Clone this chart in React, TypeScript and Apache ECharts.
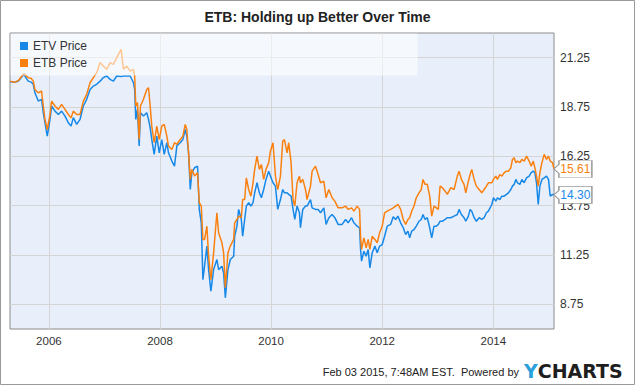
import React, { useEffect, useRef } from "react";
import * as echarts from "echarts";

// decimal years
const time = [
  2005.304, 2005.376, 2005.448, 2005.547, 2005.628, 2005.683, 2005.719, 2005.749, 2005.809, 2005.868,
  2005.899, 2005.930, 2005.971, 2006.020, 2006.049, 2006.110, 2006.170, 2006.229, 2006.290, 2006.350,
  2006.399, 2006.440, 2006.500, 2006.561, 2006.620, 2006.680, 2006.741, 2006.801, 2006.860, 2006.922,
  2006.981, 2007.041, 2007.102, 2007.161, 2007.221, 2007.300, 2007.342, 2007.401, 2007.463, 2007.522,
  2007.544, 2007.564, 2007.594, 2007.625, 2007.648, 2007.702, 2007.762, 2007.793, 2007.823, 2007.852,
  2007.895, 2007.942, 2007.986, 2008.032, 2008.076, 2008.123, 2008.153, 2008.213, 2008.261, 2008.303,
  2008.364, 2008.411, 2008.454, 2008.483, 2008.514, 2008.545, 2008.573, 2008.622, 2008.676, 2008.707,
  2008.743, 2008.772, 2008.802, 2008.844, 2008.875, 2008.916, 2008.965, 2009.024, 2009.055, 2009.115,
  2009.145, 2009.176, 2009.223, 2009.266, 2009.326, 2009.344, 2009.385, 2009.416, 2009.464, 2009.488,
  2009.524, 2009.554, 2009.596, 2009.637, 2009.674, 2009.704, 2009.746, 2009.789, 2009.825, 2009.866,
  2009.908, 2009.957, 2009.987, 2010.034, 2010.078, 2010.119, 2010.168, 2010.209, 2010.240, 2010.287,
  2010.317, 2010.359, 2010.395, 2010.426, 2010.467, 2010.510, 2010.528, 2010.570, 2010.619, 2010.647,
  2010.709, 2010.738, 2010.799, 2010.846, 2010.889, 2010.949, 2010.990, 2011.039, 2011.098, 2011.147,
  2011.206, 2011.279, 2011.340, 2011.387, 2011.448, 2011.490, 2011.549, 2011.592, 2011.610, 2011.628,
  2011.670, 2011.711, 2011.747, 2011.778, 2011.820, 2011.868, 2011.910, 2011.953, 2012.000, 2012.043,
  2012.090, 2012.151, 2012.198, 2012.242, 2012.283, 2012.332, 2012.378, 2012.422, 2012.463, 2012.494,
  2012.530, 2012.572, 2012.613, 2012.662, 2012.703, 2012.734, 2012.770, 2012.811, 2012.855, 2012.891,
  2012.932, 2012.974, 2013.010, 2013.041, 2013.082, 2013.131, 2013.172, 2013.234, 2013.293, 2013.352,
  2013.383, 2013.425, 2013.473, 2013.504, 2013.551, 2013.582, 2013.612, 2013.654, 2013.695, 2013.744,
  2013.792, 2013.834, 2013.876, 2013.911, 2013.973, 2014.002, 2014.045, 2014.074, 2014.117, 2014.153,
  2014.195, 2014.236, 2014.272, 2014.315, 2014.344, 2014.375, 2014.406, 2014.434, 2014.478, 2014.514,
  2014.555, 2014.597, 2014.645, 2014.682, 2014.718, 2014.748, 2014.777, 2014.808, 2014.838, 2014.875,
  2014.916, 2014.957, 2014.993, 2015.024, 2015.066, 2015.090,
];

const etv = [
  20.03, 20.0, 20.05, 20.4, 20.06, 20.01, 19.9, 19.47, 19.05, 19.14,
  18.46, 17.95, 17.27, 18.12, 18.8, 18.54, 18.37, 18.54, 18.29, 17.95,
  17.78, 18.21, 17.87, 18.12, 18.8, 19.14, 19.64, 19.81, 19.9, 20.06,
  20.24, 20.32, 20.15, 20.06, 20.32, 20.29, 20.32, 20.32, 20.32, 19.98,
  19.64, 18.12, 18.63, 16.77, 18.46, 18.29, 18.46, 18.12, 17.7, 17.1,
  16.35, 17.27, 16.43, 17.1, 16.35, 16.94, 16.43, 16.01, 15.75, 16.77,
  16.94, 17.1, 17.61, 17.27, 16.43, 14.57, 15.42, 15.67, 15.75, 13.56,
  12.88, 10.0, 10.68, 11.7, 10.51, 9.42, 10.51, 11.02, 10.51, 10.68,
  10.35, 9.08, 10.51, 11.02, 11.19, 12.2, 12.71, 13.56, 13.05, 12.2,
  13.05, 13.73, 13.9, 13.73, 13.9, 14.4, 14.91, 14.4, 14.15, 14.57,
  15.08, 15.5, 15.25, 14.91, 14.74, 13.56, 14.06, 14.57, 14.4, 14.4,
  14.32, 14.23, 13.56, 13.05, 13.73, 13.39, 12.63, 13.56, 13.73, 13.73,
  14.06, 13.64, 13.56, 13.56, 13.39, 13.64, 12.8, 13.14, 13.3, 13.14,
  12.8, 12.8, 13.05, 12.88, 13.14, 12.88, 12.71, 12.63, 11.53, 10.94,
  11.44, 11.19, 11.53, 10.6, 11.36, 11.7, 11.36, 11.7, 11.78, 12.2,
  12.71, 12.8, 13.19, 13.05, 13.22, 12.88, 12.63, 12.29, 12.46, 12.12,
  12.46, 12.54, 12.71, 12.96, 13.05, 13.3, 13.05, 13.14, 12.63, 12.12,
  12.71, 12.71, 12.8, 12.96, 12.96, 13.05, 13.14, 13.14, 13.22, 13.3,
  13.56, 13.3, 13.14, 12.96, 13.22, 13.56, 13.47, 13.14, 12.96, 13.14,
  13.05, 13.14, 13.39, 13.47, 13.81, 14.15, 13.98, 14.15, 14.06, 14.23,
  14.23, 14.32, 14.4, 14.57, 14.74, 14.83, 15.08, 14.91, 14.83, 15.08,
  14.91, 15.16, 15.25, 15.42, 15.5, 15.42, 14.91, 13.81, 14.74, 15.08,
  15.16, 15.25, 15.08, 14.23, 14.32, 14.3,
];

const etb = [
  20.05, 20.0, 20.08, 20.44, 20.24, 20.19, 20.06, 19.64, 19.47, 19.56,
  18.8, 18.12, 17.61, 18.37, 19.05, 18.8, 18.63, 18.88, 18.63, 18.37,
  18.21, 18.54, 18.37, 18.37, 19.05, 19.39, 19.98, 20.24, 20.49, 21.0,
  20.82, 20.66, 21.0, 20.91, 21.25, 21.67, 20.66, 20.82, 20.57, 20.66,
  20.32, 18.8, 18.97, 17.1, 18.8, 19.14, 19.64, 19.73, 18.8, 17.78,
  16.94, 17.78, 17.1, 17.78, 17.87, 17.27, 16.77, 16.6, 16.94, 16.86,
  17.1, 17.27, 17.87, 17.61, 16.43, 15.08, 15.59, 15.25, 15.42, 13.9,
  13.73, 12.04, 12.04, 12.71, 11.19, 10.0, 11.36, 13.39, 12.38, 11.87,
  11.36, 9.59, 11.36, 11.7, 12.04, 12.88, 13.05, 13.22, 13.14, 14.06,
  14.06, 15.16, 14.57, 14.23, 14.91, 15.59, 16.26, 15.59, 15.84, 15.08,
  15.59, 15.93, 16.51, 16.94, 15.25, 14.57, 15.25, 17.02, 17.1, 16.43,
  16.94, 15.93, 14.06, 13.73, 14.91, 15.25, 14.91, 15.08, 14.57, 14.06,
  14.74, 15.5, 15.75, 15.33, 14.91, 14.99, 14.15, 14.57, 14.15, 13.98,
  13.64, 13.64, 13.73, 13.56, 13.64, 13.47, 13.73, 13.56, 12.2, 11.53,
  12.12, 11.61, 12.04, 11.53, 12.2, 12.04, 11.87, 12.38, 12.71, 13.39,
  13.47, 13.56, 13.64, 13.73, 13.81, 13.56, 13.05, 12.8, 13.05, 13.14,
  13.47, 13.73, 14.15, 14.4, 14.57, 15.08, 14.83, 14.83, 14.23, 13.22,
  13.73, 13.64, 13.56, 14.74, 14.66, 14.49, 14.32, 14.66, 14.57, 15.25,
  15.5, 15.08, 14.83, 14.4, 14.99, 15.33, 15.59, 15.08, 14.74, 14.57,
  14.4, 14.57, 14.74, 14.91, 14.91, 15.08, 15.25, 15.08, 15.33, 15.25,
  15.42, 15.5, 15.5, 15.67, 16.09, 16.18, 15.93, 16.01, 15.93, 16.09,
  16.01, 16.26, 16.01, 15.75, 16.01, 15.67, 15.25, 14.74, 15.42, 15.93,
  16.35, 16.09, 16.26, 16.01, 15.93, 15.61,
];

const seriesNames = ["ETV Price", "ETB Price"];
const seriesColors = ["#1688e8", "#fa8110"];
const yTicks = [8.75, 11.25, 13.75, 16.25, 18.75, 21.25];
const xTicks = [2006, 2008, 2010, 2012, 2014];
const titleText = "ETB: Holding up Better Over Time";
const footerText = "Feb 03 2015, 7:48AM EST.  Powered by";

export default function App() {
  const ref = useRef<HTMLDivElement>(null);
  useEffect(() => {
    document.body.style.margin = "0";
    const chart = echarts.init(ref.current!, null, { renderer: "svg" });
    const font = '"Liberation Sans", Arial, sans-serif';
    const last = time.length - 1;
    const makeSeries = (name: string, vals: number[], color: string, z: number) => ({
      name,
      type: "line",
      data: time.map((t, i) => [t, vals[i]]),
      showSymbol: false,
      symbol: "none",
      z,
      lineStyle: { color, width: 1.5 },
      itemStyle: { color },
      silent: true,
      markPoint: {
        silent: true,
        symbol: "path://M0,8.5L5,4L5,0L38,0L38,17L5,17L5,13Z",
        symbolSize: [38, 17],
        symbolOffset: [19, 0],
        itemStyle: { color: "#ffffff", borderColor: "#999999", borderWidth: 1 },
        label: {
          show: true,
          position: "inside",
          offset: [2.5, 0],
          color,
          fontSize: 12,
          fontFamily: font,
          formatter: (p: any) => Number(p.value).toFixed(2),
        },
        data: [{ coord: [time[last], vals[last]], value: vals[last] }],
      },
    });
    chart.setOption({
      animation: false,
      backgroundColor: "#ffffff",
      title: {
        text: titleText,
        left: "center",
        top: 10,
        padding: 0,
        textStyle: { fontSize: 14, fontWeight: "bold", color: "#222222", fontFamily: font },
      },
      legend: {
        data: seriesNames,
        orient: "vertical",
        left: 20,
        top: 40,
        padding: 0,
        itemWidth: 8,
        itemHeight: 8,
        itemGap: 5,
        icon: "rect",
        selectedMode: false,
        z: 60,
        textStyle: { fontSize: 12, color: "#333333", fontFamily: font, lineHeight: 12 },
      },
      grid: {
        left: 10,
        right: 81,
        top: 33,
        bottom: 56,
        show: true,
        backgroundColor: "#e9effa",
        borderColor: "#8a8a8a",
        borderWidth: 1,
      },
      xAxis: {
        type: "value",
        min: 2005.3,
        max: 2015.092,
        axisLine: { show: false },
        axisTick: { show: false, customValues: xTicks },
        axisLabel: {
          customValues: xTicks,
          formatter: (v: number) => String(Math.round(v)),
          color: "#333333",
          fontSize: 11.5,
          fontFamily: font,
          margin: 6,
        },
        splitLine: { show: true, lineStyle: { color: "#d4d4d4", width: 1 } },
      },
      yAxis: {
        type: "value",
        position: "right",
        min: 7.5,
        max: 22.5,
        axisLine: { show: false },
        axisTick: { show: false, customValues: yTicks },
        axisLabel: {
          customValues: yTicks,
          formatter: (v: number) => v.toFixed(2),
          color: "#333333",
          fontSize: 12,
          fontFamily: font,
          margin: 6,
        },
        splitLine: { show: true, lineStyle: { color: "#d4d4d4", width: 1 } },
      },
      series: [
        makeSeries(seriesNames[0], etv, seriesColors[0], 2),
        makeSeries(seriesNames[1], etb, seriesColors[1], 3),
      ],
      graphic: [
        {
          type: "rect",
          z: 50,
          silent: true,
          shape: { x: 10.5, y: 33.5, width: 407, height: 42 },
          style: { fill: "rgba(255,255,255,0.55)" },
        },
        {
          type: "rect",
          z: 100,
          silent: true,
          shape: { x: 0.5, y: 0.5, width: 634, height: 384 },
          style: { fill: "none", stroke: "#999999", lineWidth: 1 },
        },
        {
          type: "text",
          z: 100,
          x: 519,
          y: 372,
          silent: true,
          style: {
            text: footerText,
            fill: "#222222",
            fontSize: 11,
            fontFamily: font,
            align: "right",
            verticalAlign: "middle",
          },
        },
        {
          type: "text",
          z: 100,
          x: 524,
          y: 371,
          silent: true,
          style: {
            text: "{a|Y}{b|CHARTS}",
            verticalAlign: "middle",
            rich: {
              a: { fill: "#29a0dc", fontSize: 19, fontWeight: "bold", fontFamily: '"DejaVu Sans", sans-serif' },
              b: { fill: "#1e1e1e", fontSize: 19, fontWeight: "bold", fontFamily: '"DejaVu Sans", sans-serif' },
            },
          },
        },
      ],
    });
    return () => chart.dispose();
  }, []);
  return (
    <div
      ref={ref}
      style={{ position: "absolute", left: 0, top: 0, width: 635, height: 385 }}
    />
  );
}
